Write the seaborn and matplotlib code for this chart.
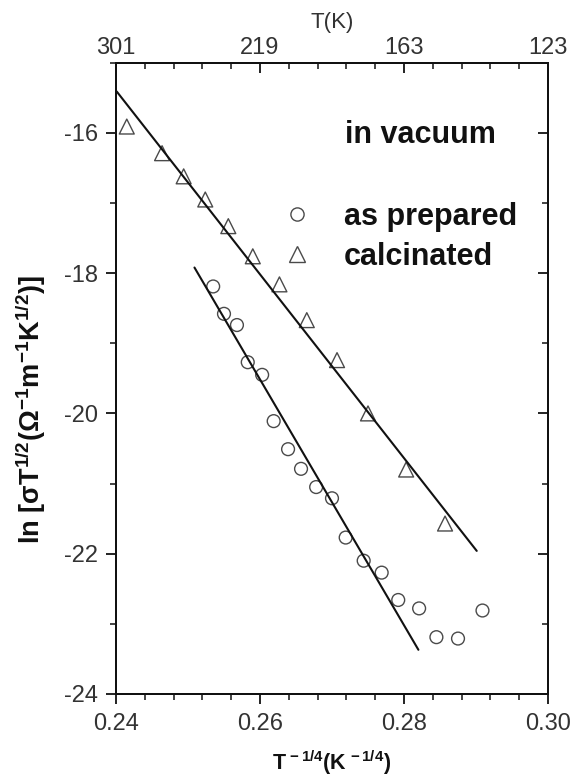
import numpy as np
import pandas as pd
import matplotlib
matplotlib.use("Agg")
import matplotlib.pyplot as plt
import seaborn as sns
from matplotlib.lines import Line2D
from matplotlib.ticker import MultipleLocator

sns.set_theme(style="ticks")
plt.rcParams['font.family'] = ['Liberation Sans', 'DejaVu Sans']
plt.rcParams['mathtext.fontset'] = 'custom'
plt.rcParams['mathtext.rm'] = 'Liberation Sans'
plt.rcParams['mathtext.bf'] = 'Liberation Sans:bold'
plt.rcParams['mathtext.it'] = 'Liberation Sans:italic'
plt.rcParams['axes.unicode_minus'] = False

# ---- data ----
calc_x = [0.2415, 0.2464, 0.2494, 0.2524, 0.2556, 0.2590, 0.2627, 0.2665,
          0.2707, 0.2750, 0.2803, 0.2857]
calc_y = [-15.91, -16.29, -16.62, -16.95, -17.33, -17.76, -18.16, -18.67,
          -19.24, -20.00, -20.80, -21.57]
prep_x = [0.2535, 0.2550, 0.2568, 0.2583, 0.2603, 0.2619, 0.2639, 0.2657,
          0.2678, 0.2700, 0.2719, 0.2744, 0.2769, 0.2792, 0.2821, 0.2845,
          0.2875, 0.2909]
prep_y = [-18.19, -18.58, -18.74, -19.27, -19.45, -20.11, -20.51, -20.79,
          -21.05, -21.21, -21.77, -22.10, -22.27, -22.66, -22.78, -23.19,
          -23.21, -22.81]
fit_calc_x = [0.2401, 0.2901]
fit_calc_y = [-15.41, -21.96]
fit_prep_x = [0.2509, 0.2820]
fit_prep_y = [-17.92, -23.37]
x_ticks = [0.24, 0.26, 0.28, 0.30]
x_tick_labels = ["0.24", "0.26", "0.28", "0.30"]
top_tick_labels = ["301", "219", "163", "123"]
y_ticks = [-24, -22, -20, -18, -16]
series_labels = ["as prepared", "calcinated"]

fig = plt.figure(figsize=(5.73, 7.83), dpi=100)
ax = fig.add_axes([0.2024, 0.1137, 0.7540, 0.8062])

mk_col = "#4a4a4a"
sns.scatterplot(x=prep_x, y=prep_y, marker='o', s=85, ax=ax, legend=False)
sns.scatterplot(x=calc_x, y=calc_y, marker='^', s=115, ax=ax, legend=False)
for coll in ax.collections:
    coll.set_facecolor('none')
    coll.set_edgecolor(mk_col)
    coll.set_linewidth(1.0)

sns.lineplot(x=fit_calc_x, y=fit_calc_y, color='#111111', lw=1.5, ax=ax)
sns.lineplot(x=fit_prep_x, y=fit_prep_y, color='#111111', lw=1.5, ax=ax)

ax.set_xlim(0.24, 0.30)
ax.set_ylim(-24, -15)
ax.set_xticks(x_ticks)
ax.set_xticklabels(x_tick_labels)
ax.set_yticks(y_ticks)
ax.xaxis.set_minor_locator(MultipleLocator(0.004))
ax.yaxis.set_minor_locator(MultipleLocator(1))

tick_col = "#333333"
ax.tick_params(axis='both', which='major', labelsize=17, colors='#111111',
               labelcolor=tick_col, width=1.3, length=7)
ax.tick_params(axis='both', which='minor', width=1.1, length=4, colors='#111111')
ax.tick_params(axis='x', which='both', direction='out', pad=7)
ax.tick_params(axis='y', which='both', direction='out', pad=6, right=False)
for s in ax.spines.values():
    s.set_linewidth(1.3)
    s.set_color('#111111')

# right-side inward ticks
axr = ax.twinx()
axr.set_ylim(ax.get_ylim())
axr.set_yticks(y_ticks)
axr.yaxis.set_minor_locator(MultipleLocator(1))
axr.tick_params(axis='y', which='both', direction='in', labelright=False)
axr.tick_params(axis='y', which='major', length=7, width=1.3, colors='#111111')
axr.tick_params(axis='y', which='minor', length=4, width=1.1, colors='#111111')

# top axis in T(K)
axt = ax.twiny()
axt.set_xlim(ax.get_xlim())
axt.set_xticks(x_ticks)
axt.set_xticklabels(top_tick_labels)
axt.xaxis.set_minor_locator(MultipleLocator(0.004))
axt.tick_params(axis='x', which='both', direction='in', pad=3)
axt.tick_params(axis='x', which='major', length=7, width=1.3, colors='#111111',
                labelsize=17, labelcolor=tick_col)
axt.tick_params(axis='x', which='minor', length=4, width=1.1, colors='#111111')
axt.set_xlabel("T(K)", fontsize=16, color=tick_col, labelpad=6)
for a in (axr, axt):
    for s in a.spines.values():
        s.set_linewidth(1.3)
        s.set_color('#111111')

ax.set_xlabel(r"$\mathbf{T^{\,-1/4}(K^{\,-1/4})}$", fontsize=15.5, color='#111111', labelpad=9)
ax.set_ylabel(r"$\mathbf{ln\ [\sigma T^{1/2}(\Omega^{-1}m^{-1}K^{1/2})]}$",
              fontsize=19.5, color='#111111')
ax.yaxis.set_label_coords(-0.157, 0.451)

handles = [Line2D([], [], marker='o', ls='', mfc='none', mec=mk_col, ms=9.5, mew=1.0),
           Line2D([], [], marker='^', ls='', mfc='none', mec=mk_col, ms=11, mew=1.0)]
leg = ax.legend(handles, series_labels, frameon=False, loc='upper left',
                bbox_to_anchor=(0.342, 0.804), prop={'weight': 'bold', 'size': 22},
                handletextpad=0.93, labelspacing=0.33, handlelength=1.2, borderpad=0)
for t in leg.get_texts():
    t.set_color('#111111')
ax.text(0.530, 0.886, "in vacuum", transform=ax.transAxes, fontsize=22,
        fontweight='bold', color='#111111', va='center', ha='left')

fig.savefig("out.png", dpi=100)
